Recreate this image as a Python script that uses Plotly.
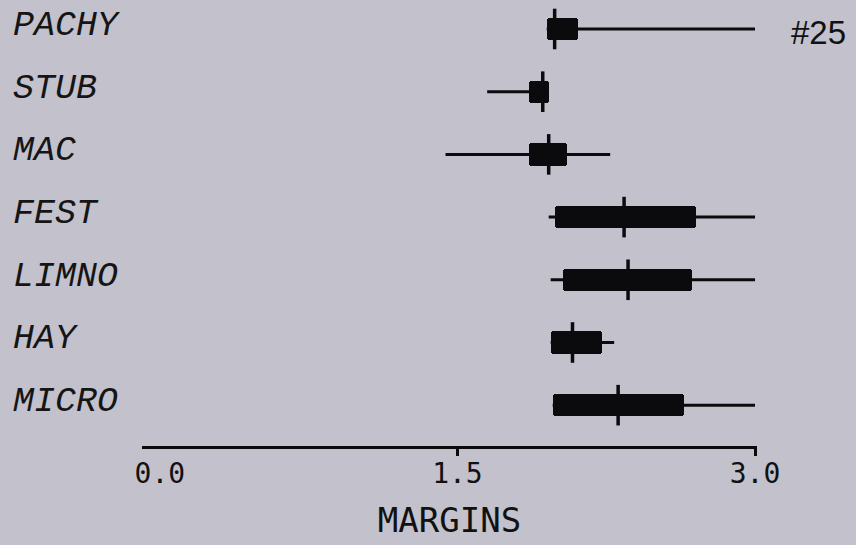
import plotly.graph_objects as go

categories = ["PACHY", "STUB", "MAC", "FEST", "LIMNO", "HAY", "MICRO"]
v_min = [1.95, 1.65, 1.44, 1.96, 1.97, 1.97, 1.98]
v_q1 = [1.95, 1.86, 1.86, 1.99, 2.03, 1.97, 1.98]
v_med = [1.99, 1.93, 1.96, 2.34, 2.36, 2.08, 2.31]
v_q3 = [2.11, 1.96, 2.05, 2.70, 2.68, 2.23, 2.64]
v_max = [3.00, 1.96, 2.27, 3.00, 3.00, 2.29, 3.00]
tick_vals = [0.0, 1.5, 3.0]
tick_text = ["0.0", "1.5", "3.0"]
x_title = "MARGINS"
plate_label = "#25"

INK = "#0b0b0d"
BG = "#c2c1cc"

fig = go.Figure()

# whiskers
wx, wy = [], []
for c, lo, hi in zip(categories, v_min, v_max):
    wx += [lo, hi, None]
    wy += [c, c, None]
fig.add_trace(go.Scatter(x=wx, y=wy, mode="lines",
                         line=dict(color=INK, width=3), hoverinfo="skip",
                         showlegend=False, cliponaxis=False))

# boxes
fig.add_trace(go.Bar(y=categories, x=[b - a for a, b in zip(v_q1, v_q3)],
                     base=v_q1, orientation="h", width=0.355,
                     marker=dict(color=INK, line=dict(width=0), cornerradius=3),
                     showlegend=False, cliponaxis=False))

# medians
fig.add_trace(go.Scatter(x=v_med, y=categories, mode="markers",
                         marker=dict(symbol="line-ns", size=29,
                                     line=dict(color=INK, width=3.5)),
                         showlegend=False, cliponaxis=False))

for c in categories:
    fig.add_annotation(x=11 / 856, xref="paper", y=c, yref="y",
                       text=c, showarrow=False, xanchor="left", yanchor="middle",
                       yshift=3,
                       font=dict(family="Liberation Mono, DejaVu Sans Mono, monospace",
                                 size=35, style="italic", color="#151515"))

fig.add_annotation(x=789 / 856, xref="paper", y=1 - 32 / 545, yref="paper",
                   text=plate_label, showarrow=False, xanchor="left", yanchor="middle",
                   font=dict(family="Liberation Sans, Arial, sans-serif", size=33, color="#111"))

fig.update_layout(
    template="none",
    width=856, height=545,
    margin=dict(l=0, r=0, t=0, b=0, pad=0),
    paper_bgcolor=BG, plot_bgcolor=BG,
    bargap=0,
    xaxis=dict(domain=[142 / 856, 757 / 856], range=[-0.09, 3.01], automargin=False,
               showgrid=False, zeroline=False,
               showline=True, linecolor=INK, linewidth=3,
               tickvals=tick_vals, ticktext=tick_text, ticks="",
               tickfont=dict(family="DejaVu Sans Mono, monospace", size=28, color="#111"),
               minor=dict(tickvals=[1.5, 3.0], ticks="outside", ticklen=7,
                          tickwidth=3, tickcolor=INK, showgrid=False),
               title=dict(text=x_title, standoff=20,
                          font=dict(family="DejaVu Sans Mono, monospace", size=34, color="#111"))),
    yaxis=dict(domain=[(545 - 446) / 545, 1], type="category", automargin=False,
               categoryorder="array", categoryarray=categories,
               range=[6.651, -0.4625], visible=False),
)

fig.write_html("out.html")
